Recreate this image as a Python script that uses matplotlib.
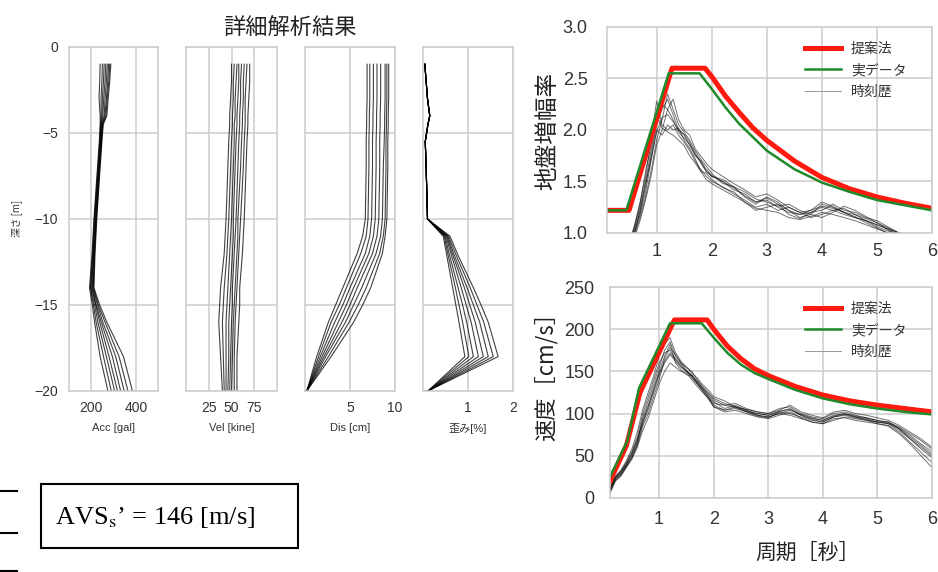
import matplotlib
matplotlib.use('Agg')
import matplotlib.pyplot as plt
from matplotlib.patches import Rectangle
from matplotlib.lines import Line2D

plt.rcParams['font.family'] = ['Liberation Sans', 'Noto Sans CJK JP', 'DejaVu Sans']
plt.rcParams['mathtext.fontset'] = 'stix'
plt.rcParams['axes.unicode_minus'] = True
CJK = ['Noto Sans CJK JP', 'DejaVu Sans']

# ---------------- data: depth profiles ----------------
depth = [-1, -2, -3, -4, -4.5, -5.5, -7, -10, -11, -12, -14, -15, -16, -18, -20]

acc_curves = [
    [240, 238, 235, 240, 240, 236, 228, 212, 208, 204, 192, 205, 215, 240, 275],
    [250, 248, 244, 244, 242, 238, 230, 214, 210, 206, 196, 210, 222, 255, 290],
    [258, 255, 250, 248, 244, 240, 232, 216, 212, 208, 198, 215, 230, 268, 305],
    [265, 262, 256, 252, 246, 242, 234, 218, 214, 210, 202, 220, 238, 280, 318],
    [272, 268, 262, 258, 248, 243, 235, 220, 216, 212, 205, 222, 245, 295, 332],
    [278, 274, 268, 262, 250, 245, 237, 222, 218, 214, 208, 228, 252, 310, 348],
    [283, 279, 272, 266, 252, 246, 238, 223, 219, 215, 210, 232, 262, 325, 365],
    [288, 283, 276, 270, 254, 248, 240, 225, 221, 217, 212, 238, 270, 345, 385],
]
vel_curves = [
    [50, 50, 49, 48, 48, 47, 46, 44, 43, 42, 38, 37, 36, 38, 40],
    [53, 52, 52, 51, 51, 50, 49, 47, 46, 45, 42, 41, 40, 41, 42],
    [56, 55, 54, 54, 53, 53, 52, 50, 49, 48, 46, 45, 44, 44, 44],
    [58, 58, 57, 56, 56, 55, 54, 52, 52, 51, 49, 48, 47, 47, 46],
    [61, 60, 60, 59, 59, 58, 57, 55, 54, 53, 51, 51, 50, 49, 48],
    [64, 63, 63, 62, 62, 61, 60, 57, 57, 56, 54, 53, 52, 51, 50],
    [67, 66, 65, 65, 65, 64, 63, 60, 59, 58, 56, 55, 54, 53, 53],
    [70, 70, 69, 68, 68, 67, 66, 64, 63, 62, 59, 59, 58, 56, 56],
]
dis_curves = [
    [6.9, 6.9, 6.9, 6.85, 6.85, 6.8, 6.8, 6.7, 6.4, 5.8, 4.2, 3.4, 2.6, 1.3, 0.2],
    [7.2, 7.2, 7.2, 7.15, 7.15, 7.1, 7.1, 7.0, 6.8, 6.2, 4.6, 3.8, 2.9, 1.5, 0.2],
    [7.6, 7.6, 7.6, 7.55, 7.55, 7.5, 7.5, 7.4, 7.2, 6.7, 5.0, 4.2, 3.3, 1.7, 0.2],
    [8.0, 8.0, 8.0, 7.95, 7.95, 7.9, 7.9, 7.8, 7.6, 7.1, 5.4, 4.6, 3.7, 1.9, 0.2],
    [8.4, 8.4, 8.4, 8.35, 8.35, 8.3, 8.3, 8.2, 8.0, 7.5, 5.8, 5.0, 4.1, 2.1, 0.2],
    [8.9, 8.9, 8.9, 8.85, 8.85, 8.8, 8.7, 8.6, 8.4, 7.9, 6.3, 5.4, 4.5, 2.3, 0.2],
    [9.1, 9.1, 9.1, 9.05, 9.05, 9.0, 9.0, 8.9, 8.7, 8.3, 6.8, 5.9, 4.9, 2.6, 0.2],
    [9.3, 9.3, 9.3, 9.25, 9.25, 9.2, 9.2, 9.1, 8.9, 8.6, 7.3, 6.4, 5.4, 2.9, 0.2],
]
strain_curves = [
    [0.04, 0.07, 0.10, 0.15, 0.11, 0.05, 0.07, 0.10, 0.45, 0.52, 0.66, 0.73, 0.80, 0.93, 0.11],
    [0.04, 0.07, 0.10, 0.15, 0.11, 0.05, 0.07, 0.10, 0.47, 0.55, 0.72, 0.80, 0.88, 1.02, 0.11],
    [0.04, 0.07, 0.10, 0.15, 0.11, 0.05, 0.07, 0.10, 0.49, 0.58, 0.78, 0.88, 0.97, 1.12, 0.11],
    [0.04, 0.07, 0.10, 0.15, 0.11, 0.05, 0.07, 0.10, 0.51, 0.62, 0.85, 0.96, 1.07, 1.23, 0.11],
    [0.04, 0.07, 0.10, 0.15, 0.11, 0.05, 0.07, 0.10, 0.53, 0.65, 0.92, 1.04, 1.16, 1.34, 0.11],
    [0.04, 0.07, 0.10, 0.15, 0.11, 0.05, 0.07, 0.10, 0.55, 0.68, 0.98, 1.12, 1.26, 1.45, 0.11],
    [0.04, 0.07, 0.10, 0.15, 0.11, 0.05, 0.07, 0.10, 0.57, 0.72, 1.05, 1.20, 1.35, 1.56, 0.11],
    [0.04, 0.07, 0.10, 0.15, 0.11, 0.05, 0.07, 0.10, 0.60, 0.76, 1.12, 1.29, 1.45, 1.67, 0.11],
]
profile_xlabels = ['Acc [gal]', 'Vel [kine]', 'Dis [cm]', '歪み[%]']
profile_xlims = [(100, 500), (0, 100), (0, 10), (0, 2)]
profile_xticks = [[200, 400], [25, 50, 75], [5, 10], [1, 2]]
depth_ticks = [0, -5, -10, -15, -20]

# ---------------- data: spectra ----------------
T_th = [0.5, 0.6, 0.7, 0.8, 0.9, 1.0, 1.1, 1.2, 1.3, 1.4, 1.5, 1.6, 1.7, 1.8, 1.9, 2.0,
        2.2, 2.4, 2.6, 2.8, 3.0, 3.2, 3.4, 3.6, 3.8, 4.0, 4.2, 4.4, 4.6, 4.8, 5.0,
        5.2, 5.4, 5.6, 5.8, 6.0]
amp_curves = [
    [0.85, 1.02, 1.20, 1.45, 1.75, 2.05, 2.20, 2.30, 2.15, 2.00, 1.95, 1.85, 1.75, 1.70, 1.60, 1.55, 1.50, 1.42, 1.38, 1.30, 1.32, 1.25, 1.20, 1.18, 1.20, 1.25, 1.22, 1.18, 1.15, 1.12, 1.08, 1.04, 0.98, 0.95, 0.92, 0.90],
    [0.80, 0.98, 1.15, 1.35, 1.60, 1.90, 2.10, 2.35, 2.20, 2.05, 1.98, 1.90, 1.80, 1.72, 1.65, 1.58, 1.48, 1.45, 1.35, 1.28, 1.35, 1.30, 1.22, 1.15, 1.18, 1.28, 1.25, 1.20, 1.16, 1.10, 1.05, 1.00, 0.97, 0.94, 0.90, 0.88],
    [0.90, 1.08, 1.30, 1.55, 1.90, 2.28, 2.05, 2.00, 2.05, 1.95, 1.88, 1.80, 1.70, 1.62, 1.55, 1.50, 1.45, 1.38, 1.32, 1.25, 1.28, 1.22, 1.25, 1.20, 1.15, 1.18, 1.22, 1.24, 1.18, 1.14, 1.10, 1.03, 0.98, 0.96, 0.93, 0.90],
    [0.82, 1.00, 1.18, 1.40, 1.70, 2.00, 1.95, 2.05, 2.00, 2.02, 1.90, 1.82, 1.72, 1.60, 1.58, 1.52, 1.44, 1.40, 1.30, 1.22, 1.25, 1.28, 1.18, 1.14, 1.20, 1.22, 1.28, 1.22, 1.20, 1.15, 1.12, 1.06, 1.00, 0.96, 0.92, 0.90],
    [0.86, 1.05, 1.25, 1.50, 1.80, 2.10, 2.25, 2.20, 2.10, 1.98, 1.92, 1.86, 1.78, 1.68, 1.60, 1.55, 1.52, 1.45, 1.40, 1.33, 1.30, 1.26, 1.28, 1.22, 1.18, 1.15, 1.20, 1.26, 1.22, 1.16, 1.10, 1.05, 1.00, 0.97, 0.94, 0.90],
    [0.78, 0.95, 1.12, 1.32, 1.55, 1.85, 2.00, 2.20, 2.30, 2.10, 2.00, 1.95, 1.82, 1.75, 1.68, 1.62, 1.55, 1.48, 1.42, 1.35, 1.38, 1.32, 1.25, 1.20, 1.22, 1.30, 1.26, 1.20, 1.15, 1.12, 1.06, 1.02, 0.98, 0.95, 0.92, 0.90],
    [0.88, 1.06, 1.28, 1.60, 1.85, 2.15, 2.02, 1.98, 1.95, 1.90, 1.85, 1.75, 1.68, 1.60, 1.52, 1.48, 1.42, 1.36, 1.30, 1.24, 1.22, 1.20, 1.15, 1.13, 1.16, 1.20, 1.18, 1.15, 1.12, 1.08, 1.04, 1.00, 0.96, 0.94, 0.91, 0.89],
    [0.84, 1.00, 1.22, 1.48, 1.72, 1.98, 2.12, 2.15, 2.08, 2.00, 1.96, 1.88, 1.76, 1.70, 1.62, 1.56, 1.50, 1.44, 1.36, 1.30, 1.34, 1.28, 1.22, 1.18, 1.22, 1.26, 1.24, 1.20, 1.18, 1.12, 1.08, 1.04, 1.00, 0.96, 0.93, 0.90],
]
T_v = [0.1, 0.2, 0.3, 0.4] + T_th
vel_sp_curves = [
    [8, 22, 28, 38, 48, 62, 85, 100, 120, 140, 165, 178, 170, 160, 155, 150, 140, 132, 125, 118, 112, 108, 104, 100, 98, 102, 100, 96, 92, 90, 96, 98, 95, 92, 90, 88, 82, 72, 62, 52],
    [12, 25, 32, 42, 55, 72, 100, 120, 140, 160, 172, 175, 165, 158, 150, 142, 135, 128, 120, 112, 110, 112, 106, 102, 100, 106, 108, 100, 96, 94, 100, 102, 98, 95, 92, 90, 84, 76, 68, 58],
    [6, 20, 26, 36, 46, 60, 80, 95, 115, 135, 150, 160, 155, 150, 148, 140, 132, 125, 118, 108, 102, 104, 100, 96, 94, 98, 102, 95, 90, 88, 94, 95, 92, 90, 88, 86, 78, 66, 54, 42],
    [10, 24, 30, 40, 52, 68, 92, 110, 130, 150, 168, 182, 160, 152, 146, 145, 138, 130, 122, 114, 106, 110, 104, 98, 96, 100, 104, 98, 94, 92, 98, 100, 96, 94, 90, 90, 82, 70, 58, 48],
    [14, 26, 33, 44, 58, 78, 105, 125, 145, 168, 182, 190, 172, 162, 155, 148, 142, 134, 128, 120, 115, 108, 105, 102, 100, 104, 110, 102, 98, 95, 102, 104, 100, 98, 95, 92, 86, 78, 70, 60],
    [7, 21, 27, 37, 47, 64, 88, 105, 125, 145, 160, 170, 162, 155, 150, 146, 136, 128, 120, 110, 104, 106, 102, 98, 96, 100, 98, 94, 90, 88, 92, 96, 94, 92, 88, 85, 76, 64, 50, 36],
    [9, 23, 29, 39, 50, 66, 95, 115, 135, 155, 175, 185, 168, 160, 152, 144, 135, 126, 118, 108, 104, 108, 102, 97, 95, 102, 106, 98, 93, 90, 96, 99, 96, 93, 90, 88, 80, 70, 60, 50],
    [11, 24, 31, 41, 53, 70, 90, 108, 128, 148, 162, 172, 164, 156, 150, 145, 138, 130, 124, 116, 110, 107, 103, 100, 98, 103, 105, 99, 95, 92, 97, 100, 97, 95, 92, 89, 83, 74, 64, 55],
]

T_red_amp = [0.1, 0.5, 1.28, 1.88, 2.0, 2.25, 2.5, 2.75, 3.0, 3.5, 4.0, 4.5, 5.0, 5.5, 6.0]
red_amp = [1.22, 1.22, 2.6, 2.6, 2.52, 2.33, 2.17, 2.02, 1.90, 1.70, 1.54, 1.43, 1.35, 1.29, 1.24]
T_green_amp = [0.1, 0.45, 1.22, 1.78, 2.0, 2.25, 2.5, 2.75, 3.0, 3.5, 4.0, 4.5, 5.0, 5.5, 6.0]
green_amp = [1.22, 1.22, 2.55, 2.55, 2.40, 2.22, 2.06, 1.93, 1.80, 1.62, 1.49, 1.40, 1.32, 1.27, 1.22]

T_red_vel = [0.1, 0.4, 0.65, 1.28, 1.88, 2.0, 2.25, 2.5, 2.75, 3.0, 3.5, 4.0, 4.5, 5.0, 5.5, 6.0]
red_vel = [20, 62, 125, 211, 211, 200, 180, 165, 153, 145, 132, 122, 115, 110, 106, 102]
T_green_vel = [0.1, 0.42, 0.63, 1.2, 1.78, 2.0, 2.25, 2.5, 2.75, 3.0, 3.5, 4.0, 4.5, 5.0, 5.5, 6.0]
green_vel = [25, 68, 130, 207, 207, 190, 172, 158, 148, 141, 128, 118, 111, 106, 102, 99]

legend_labels = ['提案法', '実データ', '時刻歴']
period_ticks = [1, 2, 3, 4, 5, 6]

# ---------------- figure ----------------
W, H = 938, 572
fig = plt.figure(figsize=(W / 100, H / 100), dpi=100)
GRID = '#cccccc'
TXT = '#333333'
RED = '#ff1a0f'
GREEN = '#1f8a2a'


def ax_px(l, t, r, b):
    return fig.add_axes([l / W, 1 - b / H, (r - l) / W, (b - t) / H])


def style(ax, fs, xpad, ypad):
    ax.grid(True, color=GRID, lw=1.1)
    ax.set_axisbelow(True)
    for s in ax.spines.values():
        s.set_color(GRID)
        s.set_linewidth(1.1)
    ax.tick_params(length=0, labelsize=fs, colors=TXT)
    ax.tick_params(axis='x', pad=xpad)
    ax.tick_params(axis='y', pad=ypad)


panel_lr = [(69, 158), (186, 277), (305, 395), (423, 513)]
profiles = [acc_curves, vel_curves, dis_curves, strain_curves]
for i, ((l, r), curves) in enumerate(zip(panel_lr, profiles)):
    ax = ax_px(l, 47, r, 391)
    style(ax, 10, 7, 8)
    for c in curves:
        ax.plot(c, depth, color='black', lw=0.8, alpha=0.75)
    ax.set_xlim(*profile_xlims[i])
    ax.set_ylim(-20, 0)
    ax.set_xticks(profile_xticks[i])
    ax.set_yticks(depth_ticks)
    if i > 0:
        ax.set_yticklabels([])
    ax.set_xlabel(profile_xlabels[i], fontsize=8, color=TXT, labelpad=6)

fig.text(17 / W, 1 - 218 / H, '深さ [m]', rotation=90, fontsize=7, color=TXT,
         ha='center', va='center', family=CJK)
fig.text(290 / W, 1 - 27 / H, '詳細解析結果', fontsize=16, color='#222222',
         ha='center', va='center', family=CJK)

# top-right: amplification
ax1 = ax_px(607, 27, 932, 233)
style(ax1, 13, 7, 14)
for c in amp_curves:
    ax1.plot(T_th, c, color='black', lw=0.7, alpha=0.55)
ax1.plot(T_red_amp, red_amp, color=RED, lw=3.6)
ax1.plot(T_green_amp, green_amp, color=GREEN, lw=1.8)
ax1.set_xlim(0.1, 6)
ax1.set_ylim(1.0, 3.0)
ax1.set_xticks(period_ticks)
ax1.set_yticks([1.0, 1.5, 2.0, 2.5, 3.0])
ax1.yaxis.set_major_formatter(matplotlib.ticker.FormatStrFormatter('%.1f'))

# bottom-right: velocity
ax2 = ax_px(610, 287, 932, 498)
style(ax2, 13, 9, 11)
for c in vel_sp_curves:
    ax2.plot(T_v, c, color='black', lw=0.7, alpha=0.55)
ax2.plot(T_red_vel, red_vel, color=RED, lw=3.6)
ax2.plot(T_green_vel, green_vel, color=GREEN, lw=1.8)
ax2.set_xlim(0.1, 6)
ax2.set_ylim(0, 250)
ax2.set_xticks(period_ticks)
ax2.set_yticks([0, 50, 100, 150, 200, 250])

handles = [Line2D([], [], color=RED, lw=3.6),
           Line2D([], [], color=GREEN, lw=1.8),
           Line2D([], [], color='#999999', lw=0.7)]
for ax in (ax1, ax2):
    leg = ax.legend(handles, legend_labels, loc='upper right', frameon=False,
                    handlelength=2.6, handletextpad=0.7,
                    labelspacing=0.55, bbox_to_anchor=(0.96, 0.99),
                    prop={'family': CJK, 'size': 10})
    for t in leg.get_texts():
        t.set_color(TXT)

fig.text(548 / W, 1 - 131 / H, '地盤増幅率', rotation=90, fontsize=17,
         color='#222222', ha='center', va='center', family=CJK)
fig.text(546 / W, 1 - 371 / H, '速度［cm/s］', rotation=90, fontsize=16,
         color='#222222', ha='center', va='center', family=CJK)
fig.text(807 / W, 1 - 553 / H, '周期［秒］', fontsize=15, color='#222222',
         ha='center', va='center', family=CJK)

# white strip clipping the top panel's tick labels (as in the original crop)
fig.add_artist(Rectangle((600 / W, 1 - 284 / H), 338 / W, 22 / H,
                         transform=fig.transFigure, color='white', zorder=20))

# AVS box
fig.add_artist(Rectangle((41 / W, 1 - 548 / H), 257 / W, 64 / H,
                         transform=fig.transFigure, fill=False, ec='black',
                         lw=1.5, zorder=5))
fig.text(55 / W, 1 - 517 / H, 'AVS$_\\mathrm{s}$\u2019 = 146 [m/s]',
         fontsize=19, family='Liberation Serif', ha='left', va='center')

# short table lines at the left edge
for yy in (491, 533, 571):
    fig.add_artist(Line2D([0, 17 / W], [1 - yy / H, 1 - yy / H],
                          transform=fig.transFigure, color='black', lw=1.5))

fig.savefig('out.png', dpi=100)
